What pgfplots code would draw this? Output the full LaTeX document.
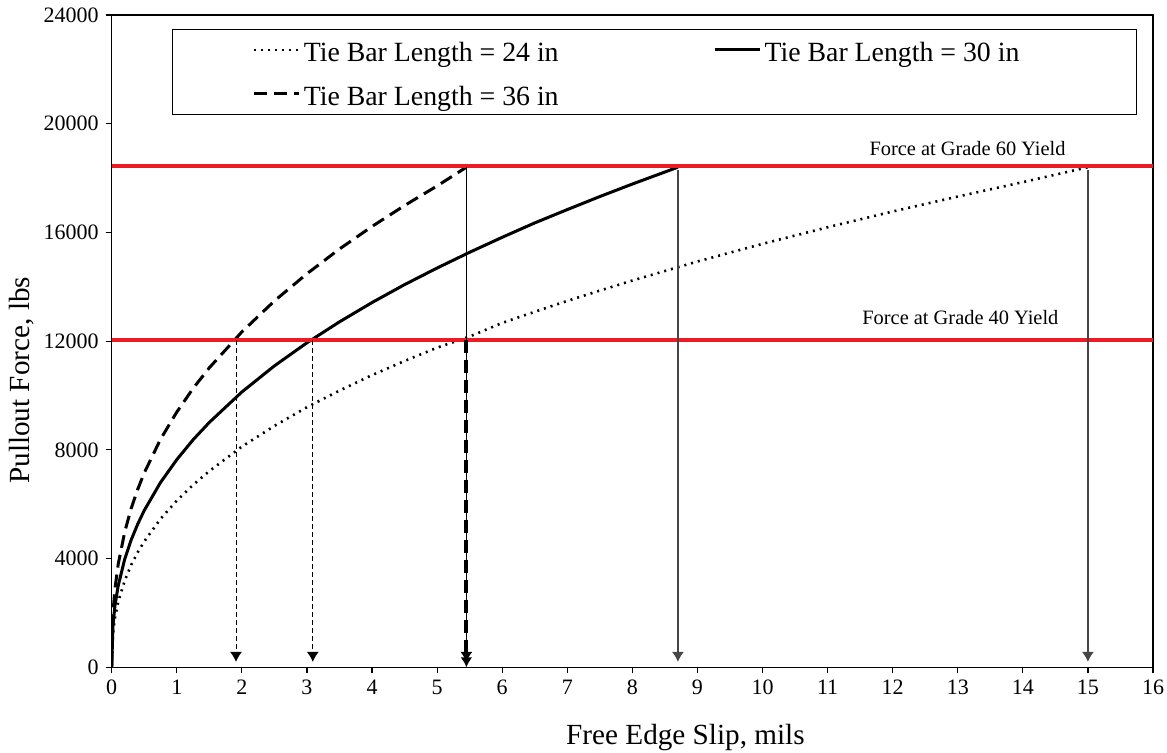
\documentclass[border=0pt]{standalone}
\usepackage{pgfplots}
\pgfplotsset{compat=1.18}
\usepackage{fontspec}
\setmainfont{Liberation Serif}
\usetikzlibrary{arrows.meta}
\definecolor{yred}{RGB}{237,28,36}
\definecolor{agray}{RGB}{70,70,70}
\begin{document}
\begin{tikzpicture}
\useasboundingbox (-55.85pt,-42.85pt) rectangle (527.65pt,333.65pt);
\begin{axis}[
  scale only axis,
  width=520.65pt, height=326.15pt,
  xmin=0, xmax=16, ymin=0, ymax=24000,
  xtick={0,1,...,16},
  ytick={0,4000,8000,12000,16000,20000,24000},
  scaled y ticks=false,
  /pgf/number format/1000 sep={},
  /pgf/number format/assume math mode=true,
  tick align=outside,
  xtick pos=left, ytick pos=left,
  major tick length=3pt,
  tick style={black, line width=0.6pt},
  axis line style={line width=0.75pt},
  ticklabel style={font=\fontsize{11}{13}\selectfont},
  xlabel={Free Edge Slip, mils},
  ylabel={Pullout Force, lbs},
  label style={font=\fontsize{14.6}{17}\selectfont},
  xlabel style={at={(axis description cs:0.551,-0.1084)}, anchor=center},
  ylabel style={at={(axis description cs:-0.0864,0.44)}, anchor=center, rotate=0},
  legend columns=2,
  legend cell align=left,
  legend image code/.code={\draw[#1] (0pt,0pt) -- (22.5pt,0pt);},
  legend style={at={(axis cs:0.93,23490)}, anchor=north west, draw=black, line width=0.6pt,
    font=\fontsize{13.9}{16}\selectfont, inner xsep=40pt, inner ysep=2pt, row sep=5.5pt,
    nodes={inner xsep=1.5pt, inner ysep=0pt, text height=14pt, text depth=2.5pt},
    /tikz/every even column/.append style={column sep=76pt}},
]
\addplot[black, line width=1.3pt, dash pattern=on 1pt off 2.5pt] coordinates {
(0,0) (0.02,1260) (0.05,1820) (0.1,2410) (0.2,3190) (0.3,3770) (0.4,4230) (0.5,4630) (0.75,5460) (1,6130) (1.25,6710) (1.5,7220) (2,8120) (2.5,8880) (3,9570) (3.5,10180) (4,10750) (4.5,11270) (5,11760) (5.5,12170) (6,12670) (6.5,13080) (7,13480) (7.5,13860) (8,14230) (9,14930) (10,15580) (11,16190) (12,16770) (13,17320) (14,17850) (15,18400)};
\addlegendentry{Tie Bar Length = 24 in}
\addplot[black, line width=1.5pt] coordinates {
(0,0) (0.02,1560) (0.05,2270) (0.1,3000) (0.2,3980) (0.3,4690) (0.4,5270) (0.5,5770) (0.75,6800) (1,7640) (1.25,8370) (1.5,9010) (2,10130) (2.5,11090) (3,11940) (3.5,12710) (4,13420) (4.5,14080) (5,14690) (5.5,15270) (6,15820) (6.5,16350) (7,16840) (7.5,17320) (8,17780) (8.7,18400)};
\addlegendentry{Tie Bar Length = 30 in\hspace*{17pt}}
\addplot[black, line width=1.5pt, dash pattern=on 6.5pt off 3.5pt] coordinates {
(0,0) (0.02,2010) (0.05,2890) (0.1,3790) (0.2,4980) (0.3,5850) (0.4,6550) (0.5,7150) (0.75,8390) (1,9390) (1.25,10260) (1.5,11020) (2,12340) (2.5,13480) (3,14480) (3.5,15390) (4,16220) (4.5,16990) (5,17710) (5.45,18400)};
\addlegendentry{Tie Bar Length = 36 in}
% yield lines
\addplot[yred, line width=2pt, forget plot] coordinates {(0,18450) (16,18450)};
\addplot[yred, line width=2pt, forget plot] coordinates {(0,12050) (16,12050)};
% arrows
\addplot[black, line width=0.5pt, dash pattern=on 2.5pt off 1.5pt, -{Latex[length=5pt,width=6pt]}, forget plot] coordinates {(1.91,12050) (1.91,200)};
\addplot[black, line width=0.5pt, dash pattern=on 2.5pt off 1.5pt, -{Latex[length=5pt,width=6pt]}, forget plot] coordinates {(3.09,12050) (3.09,200)};
\addplot[black, line width=0.5pt, -{Latex[length=5pt,width=6pt]}, forget plot] coordinates {(5.45,18400) (5.45,200)};
\addplot[black, line width=2pt, dash pattern=on 6.5pt off 3.5pt, -{Latex[length=5pt,width=6pt]}, forget plot] coordinates {(5.45,12050) (5.45,0)};
\addplot[agray, line width=0.6pt, -{Latex[length=5pt,width=6pt]}, forget plot] coordinates {(8.7,18300) (8.7,200)};
\addplot[agray, line width=0.6pt, -{Latex[length=5pt,width=6pt]}, forget plot] coordinates {(15,18300) (15,200)};
\node[font=\fontsize{10.2}{12}\selectfont] at (axis cs:13.15,19070) {Force at Grade 60 Yield};
\node[font=\fontsize{10.2}{12}\selectfont] at (axis cs:13.04,12880) {Force at Grade 40 Yield};
\end{axis}
\end{tikzpicture}
\end{document}
